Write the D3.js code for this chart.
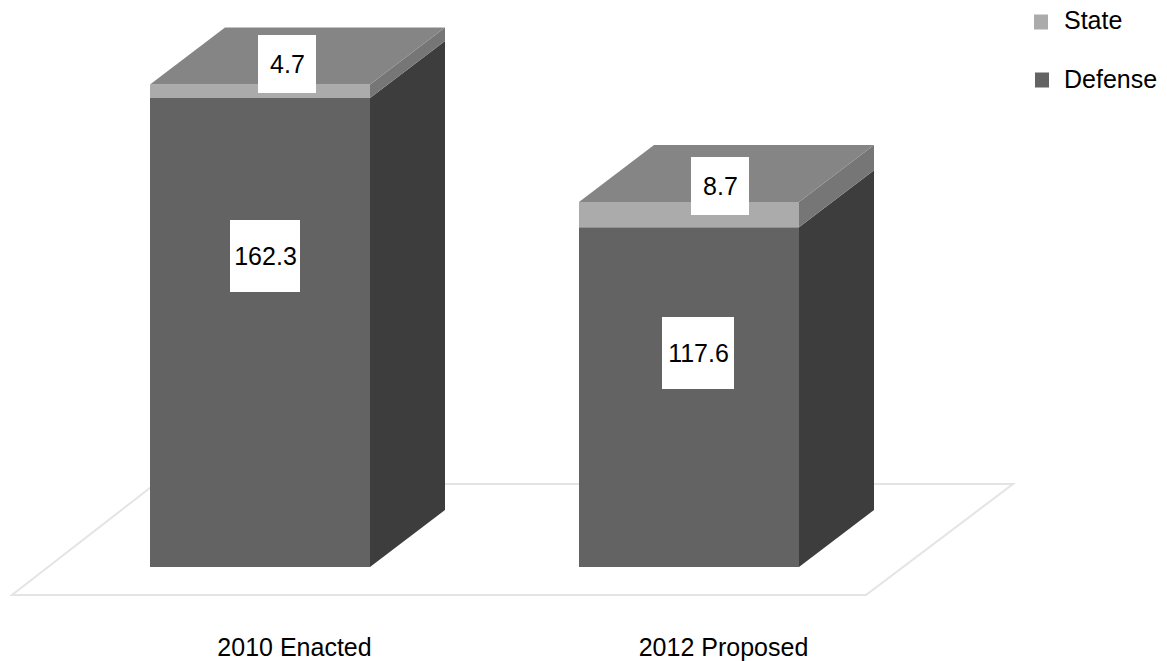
<!DOCTYPE html>
<html><head><meta charset="utf-8">
<style>html,body{margin:0;padding:0;background:#fff}svg{display:block}text{font-family:"Liberation Sans",Arial,sans-serif;fill:#000}</style>
<script src="https://cdn.jsdelivr.net/npm/d3@7"></script></head>
<body><div id="chart"></div>
<script>
const categories = ["2010 Enacted", "2012 Proposed"];
const defense = [162.3, 117.6];
const state = [4.7, 8.7];
const legendLabels = ["State", "Defense"];

const W = 1167, H = 661;
const depth = {x: 75, y: -57};
const svg = d3.select("#chart").append("svg").attr("width", W).attr("height", H);
const defs = svg.append("defs");
defs.append("filter").attr("id", "soft").append("feGaussianBlur").attr("stdDeviation", 0.6);
const xFront = d3.scalePoint().domain(categories).range([150, 579]);
const barW = 220;
const y = d3.scaleLinear().domain([0, 162.3]).range([567, 98]);

// floor
svg.append("path").attr("d", d3.line()([[155, 484], [1013, 484], [866, 595], [12, 595], [155, 484]]))
  .attr("fill", "#fff").attr("stroke", "#e4e4e4").attr("stroke-width", 2).attr("filter", "url(#soft)");

const poly = (g, pts, fill) => g.append("path").attr("d", d3.line()(pts) + "Z").attr("fill", fill);
const colors = {front: "#636363", side: "#3e3e3e", stateFront: "#ababab", stateSide: "#767676", top: "#858585"};

categories.forEach((c, i) => {
  const g = svg.append("g").attr("filter", "url(#soft)");
  const x0 = xFront(c), x1 = x0 + barW, dx = depth.x, dy = depth.y;
  const y0 = y(0), yD = y(defense[i]), yS = y(defense[i] + state[i]);
  poly(g, [[x0, y0], [x1, y0], [x1, yD], [x0, yD]], colors.front);
  poly(g, [[x1, y0], [x1 + dx, y0 + dy], [x1 + dx, yD + dy], [x1, yD]], colors.side);
  poly(g, [[x0, yD], [x1, yD], [x1, yS], [x0, yS]], colors.stateFront);
  poly(g, [[x1, yD], [x1 + dx, yD + dy], [x1 + dx, yS + dy], [x1, yS]], colors.stateSide);
  poly(g, [[x0, yS], [x1, yS], [x1 + dx, yS + dy], [x0 + dx, yS + dy]], colors.top);
  svg.append("text").attr("x", x0 + 144.5).attr("y", 655.5)
    .attr("text-anchor", "middle").attr("font-size", 25).text(c);
});

// value labels
const labelBoxes = [
  {v: defense[0], cx: 265, cy: 256, w: 70, h: 72},
  {v: state[0], cx: 287, cy: 64, w: 58, h: 58},
  {v: defense[1], cx: 698, cy: 353, w: 72, h: 72},
  {v: state[1], cx: 720, cy: 186, w: 58, h: 58}
];
labelBoxes.forEach(b => {
  svg.append("rect").attr("x", b.cx - b.w / 2).attr("y", b.cy - b.h / 2).attr("width", b.w).attr("height", b.h).attr("fill", "#fff");
  svg.append("text").attr("x", b.cx + 0.5).attr("y", b.cy + 9).attr("text-anchor", "middle").attr("font-size", 25).text(b.v.toFixed(1));
});

// legend
const legY = [22, 80], legFill = [colors.stateFront, colors.front];
legendLabels.forEach((l, i) => {
  svg.append("rect").attr("x", 1034 + i).attr("y", legY[i] - 7.5).attr("width", 14).attr("height", 15).attr("fill", legFill[i]);
  svg.append("text").attr("x", 1064).attr("y", legY[i] + 7 + i).attr("font-size", 25).text(l);
});
</script></body></html>
